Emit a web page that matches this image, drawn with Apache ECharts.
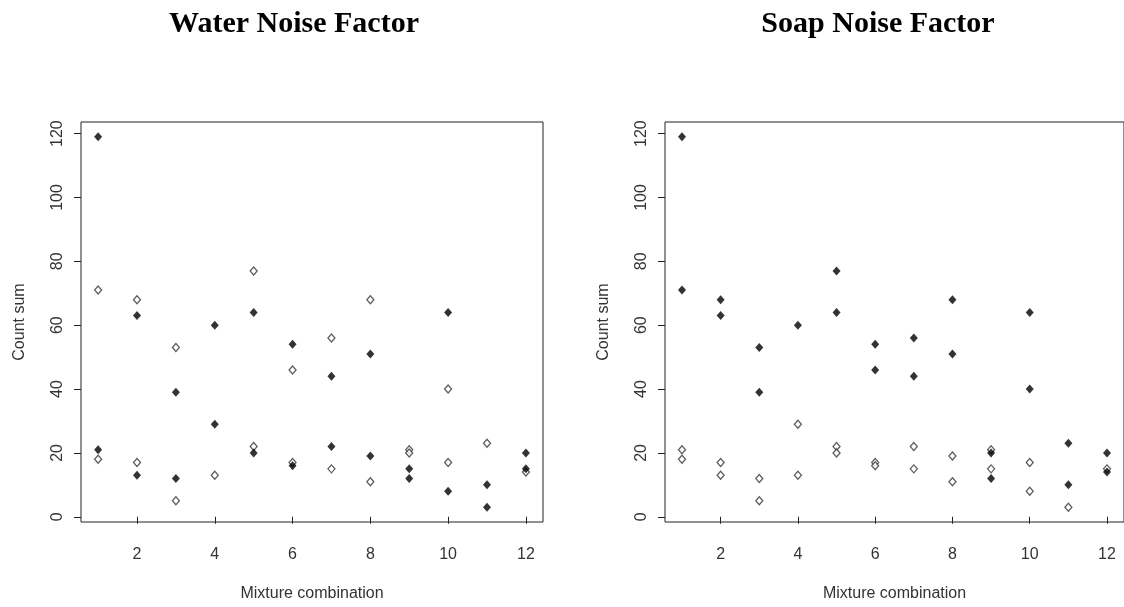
<!DOCTYPE html>
<html><head><meta charset="utf-8">
<script src="https://cdn.jsdelivr.net/npm/echarts@6/dist/echarts.min.js"></script>
<style>html,body{margin:0;padding:0;background:#fff}#c{width:1124px;height:607px}</style>
</head><body><div id="c"></div>
<script>
// Water noise factor panel
const waterFilledX = [1,1,2,2,3,3,4,4,5,5,6,6,7,7,8,8,9,9,10,10,11,11,12,12];
const waterFilledY = [119,21,63,13,39,12,60,29,64,20,54,16,44,22,51,19,15,12,64,8,10,3,20,15];
const waterOpenX = [1,1,2,2,3,3,4,5,5,6,6,7,7,8,8,9,9,10,10,11,12];
const waterOpenY = [71,18,68,17,53,5,13,77,22,46,17,56,15,68,11,21,20,40,17,23,14];
// Soap noise factor panel
const soapFilledX = [1,1,2,2,3,3,4,5,5,6,6,7,7,8,8,9,9,10,10,11,11,12,12];
const soapFilledY = [119,71,68,63,53,39,60,77,64,54,46,56,44,68,51,20,12,64,40,23,10,20,14];
const soapOpenX = [1,1,2,2,3,3,4,4,5,5,6,6,7,7,8,8,9,9,10,10,11,12];
const soapOpenY = [21,18,17,13,12,5,29,13,22,20,17,16,22,15,19,11,21,15,17,8,3,15];
// ticks and text
const xTicks = [2,4,6,8,10,12];
const yTicks = [0,20,40,60,80,100,120];
const titles = ['Water Noise Factor','Soap Noise Factor'];
const xName = 'Mixture combination';
const yName = 'Count sum';

function pts(xs, ys){ return xs.map((x,i)=>[x, ys[i]]); }

const TXT = '#333';
const FONT = 'Liberation Sans';
const grids = [
  {left:81, top:122, width:462, height:407},
  {left:665, top:122, width:464, height:407}
].map(g => Object.assign(g, {show:true, borderColor:'#222', borderWidth:1, backgroundColor:'transparent'}));

function xAx(i){
  return {type:'value', gridIndex:i, min:0.56, max:12.44,
    axisLine:{show:false}, splitLine:{show:false},
    axisTick:{show:true, customValues:xTicks, length:7, lineStyle:{color:'#222', width:1}},
    axisLabel:{customValues:xTicks, margin:25, fontSize:16, color:TXT, fontFamily:FONT},
    name:xName, nameLocation:'middle', nameGap:64,
    nameTextStyle:{fontSize:16, color:TXT, fontFamily:FONT}};
}
function yAx(i){
  return {type:'value', gridIndex:i, min:-1.64, max:123.64,
    axisLine:{show:false}, splitLine:{show:false},
    axisTick:{show:true, customValues:yTicks, length:7, lineStyle:{color:'#222', width:1}},
    axisLabel:{customValues:yTicks, margin:15, rotate:90, fontSize:16, color:TXT, fontFamily:FONT},
    name:yName, nameLocation:'middle', nameGap:53, nameRotate:90,
    nameTextStyle:{fontSize:16, color:TXT, fontFamily:FONT}};
}
const openStyle = {color:'#fff', borderColor:'#333', borderWidth:1.3};
const filledStyle = {color:'#000'};
function sc(i, data, filled){
  return {type:'scatter', xAxisIndex:i, yAxisIndex:i, data:data, symbol:'diamond',
    symbolSize: filled ? [8,9] : [7,8], itemStyle: filled ? filledStyle : openStyle, silent:true, z: filled?3:2};
}

const chart = echarts.init(document.getElementById('c'), null, {renderer:'canvas'});
chart.setOption({
  animation:false,
  backgroundColor:'#fff',
  grid:grids,
  xAxis:[xAx(0), xAx(1)],
  yAxis:[yAx(0), yAx(1)],
  series:[
    sc(0, pts(waterOpenX, waterOpenY), false),
    sc(0, pts(waterFilledX, waterFilledY), true),
    sc(1, pts(soapOpenX, soapOpenY), false),
    sc(1, pts(soapFilledX, soapFilledY), true)
  ],
  graphic:[
    {type:'text', x:294, y:24, style:{text:titles[0], font:'bold 30px "Liberation Serif"', fill:'#000', align:'center', verticalAlign:'middle'}},
    {type:'text', x:878, y:24, style:{text:titles[1], font:'bold 30px "Liberation Serif"', fill:'#000', align:'center', verticalAlign:'middle'}}
  ]
});
</script></body></html>
